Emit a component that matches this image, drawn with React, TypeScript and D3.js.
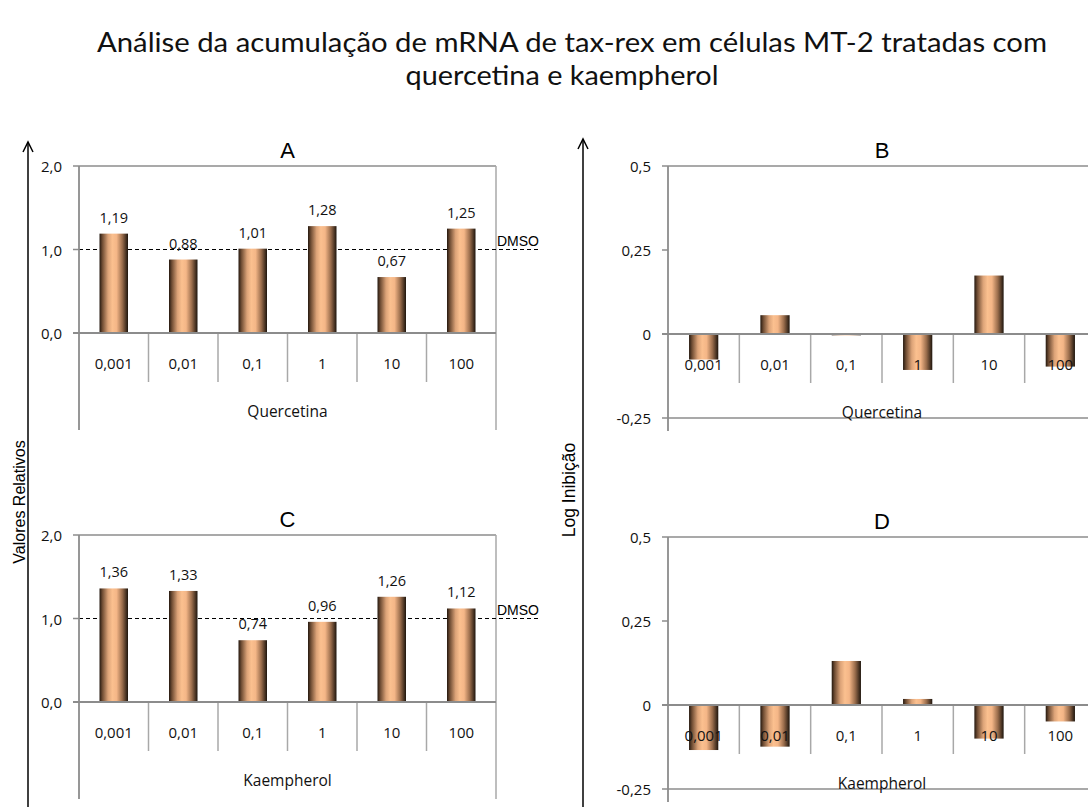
import React from "react";
import * as d3 from "d3";

// concentrations (µM) shared by every panel
const concentrations = ["0,001", "0,01", "0,1", "1", "10", "100"];

// relative values (A, C)
const quercetinaRel = [1.19, 0.88, 1.01, 1.28, 0.67, 1.25];
const kaempherolRel = [1.36, 1.33, 0.74, 0.96, 1.26, 1.12];

// log inhibition (B, D)
const quercetinaLog = [-0.076, 0.056, -0.004, -0.107, 0.174, -0.097];
const kaempherolLog = [-0.134, -0.124, 0.131, 0.018, -0.1, -0.049];

const relTicks = [0, 1, 2];
const relTickLabels = ["0,0", "1,0", "2,0"];
const logTicks = [-0.25, 0, 0.25, 0.5];
const logTickLabels = ["-0,25", "0", "0,25", "0,5"];

const numFont = "'Open Sans', sans-serif";
const arialFont = "'Liberation Sans', Arial, sans-serif";
const grey = "#8c8c8c";
const sepGrey = "#a8a8a8";

const fmt = (v: number) => d3.format(".2f")(v).replace(".", ",");

type PanelProps = {
  letter: string;
  group: string;
  values: number[];
  x0: number;
  x1: number;
  range: [number, number];
  domain: [number, number];
  ticks: number[];
  tickLabels: string[];
  relative: boolean;
};

const Panel = ({ letter, group, values, x0, x1, range, domain, ticks, tickLabels, relative }: PanelProps) => {
  const x = d3
    .scaleBand<string>()
    .domain(concentrations)
    .range([x0, x1])
    .paddingInner(0.59)
    .paddingOuter(0.295);
  const y = d3.scaleLinear().domain(domain).range(range);
  const zero = y(0);
  const top = y(domain[1]);
  const step = x.step();
  const bottom = zero + 97;

  return (
    <g>
      {/* panel letter */}
      <text
        x={(x0 + x1) / 2}
        y={top - 16}
        textAnchor="middle"
        dominantBaseline="central"
        fontFamily={arialFont}
        fontSize={22}>
        {letter}
      </text>

      {/* ticks and labels */}
      {ticks.map((t, i) => (
        <g key={t}>
          <line x1={x0 - 6} x2={x0} y1={y(t)} y2={y(t)} stroke={grey} strokeWidth={1.5} />
          <text
            x={x0 - 17}
            y={y(t)}
            textAnchor="end"
            dominantBaseline="central"
            fontFamily={numFont}
            fontSize={15}
            fill="#111">
            {tickLabels[i]}
          </text>
        </g>
      ))}

      {/* frame */}
      <line x1={x0} x2={x1} y1={top} y2={top} stroke={grey} strokeWidth={1.5} />
      {relative && <line x1={x1} x2={x1} y1={top} y2={bottom} stroke={sepGrey} strokeWidth={1.5} />}
      {!relative && (
        <line x1={x0} x2={x1} y1={y(domain[0])} y2={y(domain[0])} stroke={grey} strokeWidth={1.5} />
      )}

      {/* DMSO reference */}
      {relative && (
        <g>
          <line
            x1={x0}
            x2={x0 + 459}
            y1={y(1)}
            y2={y(1)}
            stroke="#000"
            strokeWidth={1.2}
            strokeDasharray="4,3"
          />
          <text x={x0 + 418} y={y(1) - 4} fontFamily={arialFont} fontSize={14}>
            DMSO
          </text>
        </g>
      )}

      {/* bars */}
      {values.map((v, i) => (
        <rect
          key={i}
          x={x(concentrations[i])}
          y={Math.min(y(v), zero)}
          width={x.bandwidth()}
          height={Math.abs(y(v) - zero)}
          fill="url(#barGrad)"
        />
      ))}

      {/* category separators */}
      {d3.range(1, 6).map((i) => (
        <line
          key={i}
          x1={x0 + i * step}
          x2={x0 + i * step}
          y1={zero}
          y2={zero + 49}
          stroke={sepGrey}
          strokeWidth={1.5}
        />
      ))}

      {/* axes */}
      <line x1={x0} x2={x0} y1={top} y2={bottom} stroke={grey} strokeWidth={1.8} />
      <line x1={x0 - 6} x2={x1} y1={zero} y2={zero} stroke={grey} strokeWidth={2} />

      {/* category labels */}
      {concentrations.map((c) => (
        <text
          key={c}
          x={(x(c) as number) + x.bandwidth() / 2}
          y={zero + 30}
          textAnchor="middle"
          dominantBaseline="central"
          fontFamily={numFont}
          fontSize={15}
          fill="#111">
          {c}
        </text>
      ))}
      <text
        x={(x0 + x1) / 2}
        y={zero + 78}
        textAnchor="middle"
        dominantBaseline="central"
        fontFamily={numFont}
        fontSize={15.5}
        fill="#111">
        {group}
      </text>

      {/* value labels */}
      {relative &&
        values.map((v, i) => (
          <text
            key={i}
            x={(x(concentrations[i]) as number) + x.bandwidth() / 2}
            y={y(v) - 11}
            textAnchor="middle"
            fontFamily={numFont}
            fontSize={14.5}
            fill="#111">
            {fmt(v)}
          </text>
        ))}
    </g>
  );
};

const Arrow = ({ x, tip }: { x: number; tip: number }) => (
  <g stroke="#000" strokeWidth={1.5} fill="none">
    <line x1={x} x2={x} y1={tip} y2={807} />
    <polyline points={`${x - 5},${tip + 10} ${x},${tip} ${x + 5},${tip + 10}`} />
  </g>
);

export default function App() {
  return (
    <svg
      width={1088}
      height={807}
      style={{ position: "absolute", left: 0, top: 0, background: "#fff" }}>
      <defs>
        <linearGradient id="barGrad" x1="0" x2="1" y1="0" y2="0">
          <stop offset="0" stopColor="#24180f" />
          <stop offset="0.1" stopColor="#6e4c33" />
          <stop offset="0.3" stopColor="#dca378" />
          <stop offset="0.45" stopColor="#fbc08f" />
          <stop offset="0.6" stopColor="#f4b687" />
          <stop offset="0.8" stopColor="#9a6d4c" />
          <stop offset="1" stopColor="#1e150d" />
        </linearGradient>
      </defs>
      <rect width={1088} height={807} fill="#fff" />

      {/* title */}
      <text
        x={572}
        y={52}
        textAnchor="middle"
        fontFamily="Lato, sans-serif"
        fontSize={26}
        textLength={950}
        lengthAdjust="spacingAndGlyphs"
        fill="#111">
        Análise da acumulação de mRNA de tax-rex em células MT-2 tratadas com
      </text>
      <text
        x={562}
        y={85}
        textAnchor="middle"
        fontFamily="Lato, sans-serif"
        fontSize={26}
        textLength={313}
        lengthAdjust="spacingAndGlyphs"
        fill="#111">
        quercetina e kaempherol
      </text>

      {/* outer axes */}
      <Arrow x={28} tip={142} />
      <Arrow x={583} tip={139} />
      <text
        transform="translate(25,502) rotate(-90)"
        textAnchor="middle"
        fontFamily={arialFont}
        fontSize={16}>
        Valores Relativos
      </text>
      <text
        transform="translate(575,490) rotate(-90)"
        textAnchor="middle"
        fontFamily={arialFont}
        fontSize={17.5}>
        Log Inibição
      </text>

      <Panel
        letter="A"
        group="Quercetina"
        values={quercetinaRel}
        x0={79}
        x1={496}
        range={[333, 166]}
        domain={[0, 2]}
        ticks={relTicks}
        tickLabels={relTickLabels}
        relative
      />
      <Panel
        letter="C"
        group="Kaempherol"
        values={kaempherolRel}
        x0={79}
        x1={496}
        range={[702, 535]}
        domain={[0, 2]}
        ticks={relTicks}
        tickLabels={relTickLabels}
        relative
      />
      <Panel
        letter="B"
        group="Quercetina"
        values={quercetinaLog}
        x0={668}
        x1={1096}
        range={[418, 166]}
        domain={[-0.25, 0.5]}
        ticks={logTicks}
        tickLabels={logTickLabels}
        relative={false}
      />
      <Panel
        letter="D"
        group="Kaempherol"
        values={kaempherolLog}
        x0={668}
        x1={1096}
        range={[789, 537]}
        domain={[-0.25, 0.5]}
        ticks={logTicks}
        tickLabels={logTickLabels}
        relative={false}
      />
    </svg>
  );
}
